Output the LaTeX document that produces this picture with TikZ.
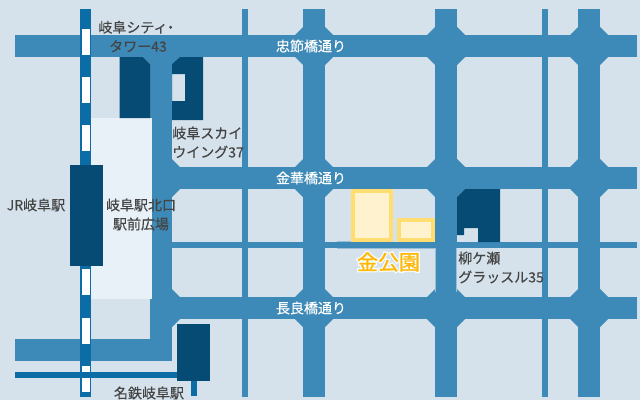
\documentclass[tikz,border=0pt]{standalone}
\usepackage{fontspec}
\setmainfont[FakeBold=0.3]{Noto Sans CJK JP}
\newfontfamily\glowfont[FakeBold=14]{Noto Sans CJK JP}
\newfontfamily\parkfont[FakeBold=0.9]{Noto Sans CJK JP}
\definecolor{bg}{HTML}{D5E2EC}
\definecolor{road}{HTML}{3D89B7}
\definecolor{roadedge}{HTML}{9DBFD6}
\definecolor{rail}{HTML}{0C6CA5}
\definecolor{dark}{HTML}{064B74}
\definecolor{plaza}{HTML}{E8F0F8}
\definecolor{parkfill}{HTML}{FFF3CF}
\definecolor{parkline}{HTML}{FFDD70}
\definecolor{label}{HTML}{444444}
\definecolor{gold}{HTML}{FFB700}
\tikzset{
 roadfill/.style={fill=road},
 darkfill/.style={fill=dark},
 lab/.style={text=label,font=\fontsize{10.5}{14.25}\selectfont,inner sep=0pt,align=center},
 labl/.style={lab,align=left,anchor=west},
 rname/.style={text=white,font=\fontsize{10.5}{14}\selectfont,inner sep=0pt},
 parkbox/.style={fill=parkfill,draw=parkline,line width=3pt},
}
\begin{document}
\begin{tikzpicture}[x=0.75pt,y=-0.75pt,line join=miter]
\useasboundingbox (0,0) rectangle (640,400);
\fill[bg] (0,0) rectangle (640,400);
% roads
\fill[roadfill] (15,35) rectangle (637,57);
\fill[roadfill] (150,167) rectangle (637,189);
\fill[roadfill] (150,297) rectangle (637,319);
\fill[roadfill] (172,242) rectangle (637,248);
\fill[roadfill] (15,339) rectangle (172,361);
\fill[roadfill] (150,57) rectangle (172,361);
\fill[roadfill] (242,9) rectangle (248,397);
\fill[roadfill] (542,9) rectangle (548,397);
\fill[roadfill] (303,9) rectangle (325,397);
\fill[roadfill] (435,9) rectangle (457,397);
\fill[roadfill] (578,9) rectangle (600,397);
% chamfers at crossings
\foreach \cx in {314,446,589}{
 \foreach \cy in {46,178,308}{
  \fill[roadfill] (\cx-30,\cy) -- (\cx,\cy-30) -- (\cx+30,\cy) -- (\cx,\cy+30) -- cycle;
 }}
\foreach \cy in {178,308}{
 \fill[roadfill] (172,\cy-19) -- (180,\cy-11) -- (172,\cy-11) -- cycle;
 \fill[roadfill] (172,\cy+19) -- (180,\cy+11) -- (172,\cy+11) -- cycle;
}
\fill[roadfill] (143,57) -- (150,64) -- (150,57) -- cycle;
\fill[roadfill] (172,64) -- (180,57) -- (172,57) -- cycle;
% faint edges beside the park block
\draw[roadedge,line width=.5pt] (337,241.7) -- (352,241.7) (337,248.3) -- (435.3,248.3) -- (435.3,292);
\draw[roadedge,line width=.5pt] (456.7,248) -- (456.7,292);
% plaza
\fill[plaza] (91,118) rectangle (152,299);
% rail
\fill[rail] (80,9) rectangle (91,397);
\foreach \a in {29,77,125,269,318,366}{
 \fill[white] (82,\a) rectangle (90,\a+26);
}
\fill[rail] (15,372) rectangle (177,378);
\fill[rail] (191,381) rectangle (197,396);
% stations and buildings
\fill[darkfill] (70,165) rectangle (103,266);
\fill[darkfill] (177,324) rectangle (210,381);
\fill[darkfill] (119.5,57) -- (143,57) -- (150,64) -- (150,118) -- (119.5,118) -- cycle;
\fill[darkfill,even odd rule] (172,64) -- (180,57) -- (203,57) -- (203,120) -- (172,120) -- cycle
  (172,74) rectangle (185,101);
\fill[darkfill] (457,197) -- (465,189) -- (500,189) -- (500,242) -- (478,242) -- (478,228) -- (464,228) -- (464,235) -- (457,235) -- cycle;
% park
\draw[parkbox] (353,191) rectangle (391,240);
\draw[parkbox] (399,220) rectangle (433,240);
% labels
\node[lab] (n1) at (138,36.5) {岐阜シティ\kern-3pt・\\タワー43};
\node[labl] (n2) at (172,142.5) {岐阜スカイ\\ウイング37};
\node[lab] (n3) at (36,205) {JR岐阜駅};
\node[lab] (n4) at (141,214.5) {岐阜駅北口\\駅前広場};
\node[lab] (n5) at (149,393) {名鉄岐阜駅};
\node[labl] (n6) at (458,267.5) {柳ケ瀬\\グラッスル35};
\node[rname] (r1) at (311,46) {忠節橋通り};
\node[rname] (r2) at (311,178) {金華橋通り};
\node[rname] (r3) at (311,308) {長良橋通り};
\node[text=white,font=\fontsize{15.75}{18}\glowfont,inner sep=0pt,opacity=.85] (glow) at (388.5,262) {金公園};
\node[text=gold,font=\fontsize{15.75}{18}\parkfont,inner sep=0pt] (park) at (388.5,262) {金公園};
\end{tikzpicture}
\end{document}
